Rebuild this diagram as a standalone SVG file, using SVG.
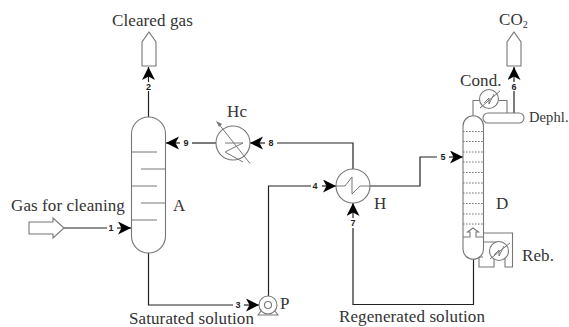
<svg xmlns="http://www.w3.org/2000/svg" width="569" height="327" viewBox="0 0 569 327">
<defs>
<marker id="ah" markerUnits="userSpaceOnUse" markerWidth="14" markerHeight="14" refX="13" refY="6.500" orient="auto"><path d="M0 0L13 6.500L0 13L3.500 6.500Z" fill="#000"/></marker>
</defs>
<style>
text{font-family:"Liberation Serif","Times New Roman",serif;font-size:17px;letter-spacing:.1px;fill:#333}
.s{font-size:14.500px}
.n{font-family:"Liberation Sans",Arial,sans-serif;font-size:9px;font-weight:bold;text-anchor:middle;fill:#222;letter-spacing:0}
.e{fill:none;stroke:#777;stroke-width:1.1}
.w{fill:#fff;stroke:#777;stroke-width:1.1}
.t{fill:none;stroke:#777;stroke-width:1}
.d{fill:none;stroke:#777;stroke-width:1;stroke-dasharray:1.600 1.400}
.p{fill:none;stroke:#222;stroke-width:1.200}
.a{fill:none;stroke:#222;stroke-width:1.200;marker-end:url(#ah)}
</style>
<rect width="569" height="327" fill="#fff"/>
<g id="connectors">
<path class="p" d="M148.500 117V91"/><path class="a" d="M148.500 82V67"/>
<path class="p" d="M148.500 253V305H233"/><path class="a" d="M244 305H259"/>
<path class="p" d="M64 228H107"/><path class="a" d="M117 228H131"/>
<path class="p" d="M216 143H192"/><path class="a" d="M180 143H166"/>
<path class="p" d="M353 169V143H277"/><path class="a" d="M265 143H250"/>
<path class="p" d="M268.500 296V186H311"/><path class="a" d="M322 186H336"/>
<path class="p" d="M370 186H420V157H437"/><path class="a" d="M449 157H463"/>
<path class="p" d="M514 113V91"/><path class="a" d="M514 82V67"/>
<path class="p" d="M473.500 259V304.500H353V228"/><path class="a" d="M353 218V203"/>
</g>
<g id="node-cleared-gas">
<path class="e" d="M142 66V42L149 32L156 42V66Z"/>
<text x="112" y="26">Cleared gas</text>
</g>
<g id="node-co2">
<path class="e" d="M507 66V42L514 32L521 42V66Z"/>
<text x="499" y="25">CO<tspan style="font-size:10px" dy="3">2</tspan></text>
</g>
<g id="node-feed">
<path class="e" d="M29 222H53V218L64 228L53 238V234H29Z"/>
<text x="11" y="211">Gas for cleaning</text>
</g>
<g id="node-A">
<path class="w" d="M131.500 134A17 17 0 0 1 165.500 134V236A17 17 0 0 1 131.500 236Z"/>
<path class="t" d="M131.500 152H157M141 169H165.500M131.500 186H157M141 203H165.500M131.500 220H157"/>
<text x="173" y="211">A</text>
</g>
<g id="node-Hc">
<circle class="w" cx="233" cy="143" r="17"/>
<path class="t" d="M225 143H243L225 152L243 162"/>
<path class="t" d="M250 163.500L218 123"/>
<path d="M216 121L222 124L219 127Z" fill="#777"/>
<text x="227" y="117">Hc</text>
</g>
<g id="node-H">
<circle class="w" cx="353" cy="186" r="17"/>
<path class="t" d="M336 186H345L352 177V194L360 186H370"/>
<text x="374" y="209">H</text>
</g>
<g id="node-P">
<path class="e" d="M258 315L262 310H274L278 315Z"/>
<circle class="w" cx="268" cy="305" r="9"/>
<circle class="e" cx="268" cy="305" r="3.500"/>
<text x="280" y="309">P</text>
</g>
<g id="node-D">
<path class="e" d="M483 233H512.500V267H505V258M483 242H499M483 257H479V267H494V259"/>
<path class="w" d="M463 126A10.250 10.250 0 0 1 483.500 126V249A10.250 10.250 0 0 1 463 249Z"/>
<path class="d" d="M463 131.500H483M463 141.500H483M463 152H483M463 162H483M463 172.500H483M463 183H483M463 193H483M463 203.500H483M463 214H483M463 224H483"/>
<path class="e" d="M463 237H470V232H467.500L473 228L478.500 232H476V237H483.500"/>
<text x="496" y="209">D</text>
</g>
<g id="node-Reb">
<circle class="w" cx="499" cy="251" r="9.500"/>
<path class="t" d="M490 259L510 243M494 255L499 250V256L504 246"/>
<text x="522" y="261">Reb.</text>
</g>
<g id="node-Cond">
<path class="e" d="M473 116V100.500H480M499 100.500H507V113"/>
<circle class="w" cx="489" cy="99" r="9.500"/>
<path class="t" d="M480 108L500 91M484 103L489 98V104L494 94"/>
<text x="460" y="86">Cond.</text>
</g>
<g id="node-Dephl">
<rect class="w" x="483" y="113" width="41" height="10" rx="5"/>
<text class="s" x="529" y="122">Dephl.</text>
</g>
<g id="labels">
<text class="n" x="148.500" y="90">2</text>
<text class="n" x="186" y="146">9</text>
<text class="n" x="271" y="146">8</text>
<text class="n" x="315" y="189">4</text>
<text class="n" x="443" y="160">5</text>
<text class="n" x="514" y="90">6</text>
<text class="n" x="353" y="226">7</text>
<text class="n" x="111" y="231">1</text>
<text class="n" x="238" y="308">3</text>
<text x="129" y="324">Saturated solution</text>
<text x="339" y="322">Regenerated solution</text>
</g>
</svg>
